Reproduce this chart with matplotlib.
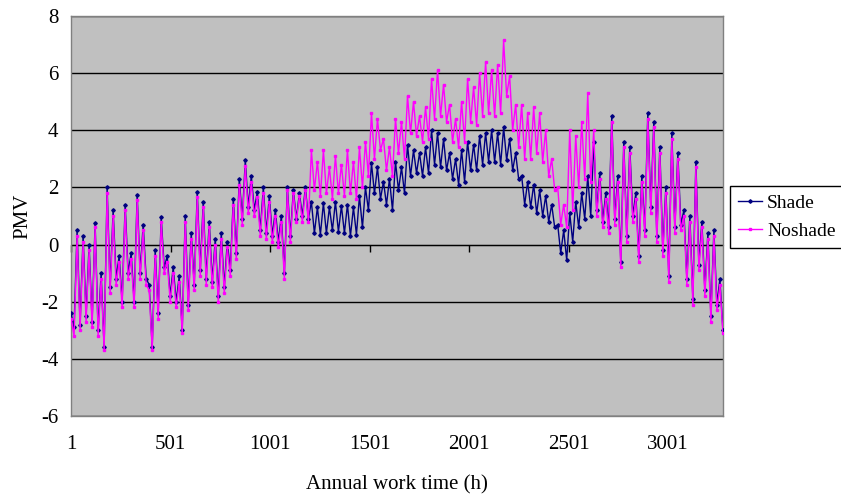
import numpy as np
import matplotlib
matplotlib.use("Agg")
import matplotlib.pyplot as plt

plt.rcParams['font.family'] = ['Liberation Serif', 'DejaVu Serif']
plt.rcParams['axes.unicode_minus'] = False

# PMV, alternating daily high / low, evenly spread over the work hours
n_hours = 3276
shade = [
    -2.4, -2.9, 0.5, -2.8, 0.3, -2.5, 0.0, -2.7, 0.75, -3.0,
    -1.0, -3.6, 2.0, -1.5, 1.2, -1.2, -0.4, -2.0, 1.4, -1.0,
    -0.3, -2.0, 1.75, -1.0, 0.7, -1.2, -1.4, -3.6, -0.2, -2.4,
    0.95, -0.8, -0.4, -1.8, -0.8, -2.0, -1.1, -3.0, 1.0, -2.1,
    0.4, -1.4, 1.85, -0.9, 1.5, -1.2, 0.8, -1.3, 0.2, -1.8,
    0.4, -1.5, 0.1, -0.9, 1.6, -0.3, 2.3, 0.9, 2.95, 1.3,
    2.4, 1.2, 1.85, 0.5, 2.0, 0.4, 1.7, 0.3, 1.2, 0.1,
    1.0, -1.0, 2.0, 0.3, 1.9, 0.9, 1.8, 1.0, 2.0, 0.9,
    1.5, 0.4, 1.3, 0.35, 1.45, 0.4, 1.3, 0.5, 1.5, 0.45,
    1.35, 0.4, 1.4, 0.3, 1.3, 0.35, 1.7, 0.6, 2.0, 1.2,
    2.85, 1.8, 2.7, 1.6, 2.2, 1.4, 2.3, 1.2, 2.9, 1.9,
    2.7, 1.8, 3.5, 2.4, 3.3, 2.5, 3.2, 2.4, 3.4, 2.5,
    4.0, 2.8, 3.9, 2.7, 3.7, 2.6, 3.2, 2.3, 3.0, 2.1,
    3.3, 2.2, 3.6, 2.6, 3.5, 2.6, 3.8, 2.8, 3.9, 2.9,
    4.0, 2.9, 3.9, 2.8, 4.1, 2.95, 3.7, 2.6, 3.2, 2.3,
    2.4, 1.4, 2.2, 1.3, 2.1, 1.1, 1.9, 1.0, 1.7, 0.8,
    1.4, 0.6, 0.7, -0.3, 0.5, -0.55, 1.1, 0.1, 1.5, 0.6,
    1.8, 0.9, 2.4, 1.0,
    3.6, 1.2, 2.5, 0.8, 1.8, 0.6, 4.5, 0.9, 2.4, -0.6,
    3.6, 0.3, 3.4, 1.0, 1.8, -0.4, 2.4, 0.5, 4.6, 1.3,
    4.3, 0.3, 3.4, -0.2, 2.0, -1.1, 3.9, 0.6, 3.2, 0.7,
    1.2, -1.2, 1.0, -1.9, 2.9, -0.7, 0.8, -1.6, 0.4, -2.5,
    0.5, -2.1, -1.2, -3.0,
]
noshade = [
    -2.6, -3.2, 0.3, -3.0, 0.1, -2.7, -0.2, -2.9, 0.6, -3.2,
    -1.2, -3.7, 1.8, -1.7, 1.0, -1.4, -0.6, -2.2, 1.2, -1.2,
    -0.5, -2.2, 1.55, -1.2, 0.5, -1.4, -1.6, -3.7, -0.4, -2.6,
    0.8, -1.0, -0.6, -2.0, -1.0, -2.2, -1.3, -3.1, 0.8, -2.3,
    0.2, -1.6, 1.65, -1.1, 1.3, -1.4, 0.6, -1.5, 0.0, -2.0,
    0.2, -1.7, -0.1, -1.1, 1.4, -0.5, 2.1, 0.7, 2.75, 1.1,
    2.2, 1.0, 1.65, 0.3, 1.8, 0.2, 1.5, 0.1, 1.0, -0.1,
    0.8, -1.2, 1.9, 0.1, 1.8, 0.8, 1.7, 0.8, 1.9, 0.8,
    3.3, 1.9, 2.9, 1.7, 3.3, 1.8, 2.7, 1.6, 3.1, 1.8,
    2.8, 1.7, 3.3, 1.8, 2.9, 1.6, 3.4, 2.0, 3.6, 2.4,
    4.6, 3.0, 4.4, 3.3, 3.7, 2.6, 3.4, 2.4, 4.4, 3.2,
    4.3, 3.0, 5.2, 3.9, 5.0, 3.8, 4.5, 3.6, 4.8, 3.7,
    5.8, 4.4, 6.1, 4.5, 5.6, 4.3, 4.9, 3.6, 4.4, 3.4,
    5.0, 3.6, 5.8, 4.3, 5.5, 4.2, 6.0, 4.5, 6.4, 4.6,
    6.1, 4.5, 6.3, 4.6, 7.15, 5.2, 5.9, 4.0, 4.9, 3.4,
    4.9, 3.0, 4.6, 3.0, 4.8, 3.2, 4.6, 2.9, 4.0, 2.4,
    3.0, 1.9, 2.0, 0.7, 1.4, 0.6, 4.0, 1.2, 3.8, 2.0,
    4.3, 2.3, 5.3, 2.2,
    4.0, 1.0, 2.3, 0.6, 1.6, 0.4, 4.3, 0.7, 2.2, -0.8,
    3.4, 0.1, 3.2, 0.8, 1.6, -0.6, 2.2, 0.3, 4.4, 1.1,
    4.1, 0.1, 3.2, -0.4, 1.8, -1.3, 3.7, 0.4, 3.0, 0.5,
    1.0, -1.4, 0.8, -2.1, 2.7, -0.9, 0.6, -1.8, 0.2, -2.7,
    0.3, -2.3, -1.4, -3.1,
]
xtick_vals = [1, 501, 1001, 1501, 2001, 2501, 3001]
ytick_vals = [-6, -4, -2, 0, 2, 4, 6, 8]

hours_s = np.linspace(1, n_hours, len(shade))
hours_n = np.linspace(1, n_hours, len(noshade))

fig = plt.figure(figsize=(8.41, 4.96), dpi=100)
ax = fig.add_axes([0.0844, 0.1613, 0.7753, 0.8064])
ax.set_facecolor('#C0C0C0')

ax.plot(hours_s, shade, color='#000080', lw=1.0, marker='D', ms=1.8, label='Shade', zorder=3)
ax.plot(hours_n, noshade, color='#FF00FF', lw=1.0, marker='s', ms=2.0, label='Noshade', zorder=4)

ax.set_xlim(0.5, n_hours + 0.5)
ax.set_ylim(-6, 8)
ax.set_xticks(xtick_vals)
ax.set_xticklabels([str(v) for v in xtick_vals])
ax.set_yticks(ytick_vals)
ax.grid(True, axis='y', color='black', lw=1)
ax.set_axisbelow(True)
ax.tick_params(axis='x', length=0, pad=14, labelsize=15)
ax.tick_params(axis='y', length=0, pad=9, labelsize=15)
for s in ax.spines.values():
    s.set_color('#808080')
    s.set_linewidth(1)

# category axis crosses at PMV = 0
y0 = (0 - ax.get_ylim()[0]) / (ax.get_ylim()[1] - ax.get_ylim()[0])
sec = ax.secondary_xaxis(y0)
sec.set_xticks(xtick_vals)
sec.set_xticklabels([])
sec.tick_params(direction='out', length=5, width=1, color='black')
sec.spines['bottom'].set_color('black')

ax.set_xlabel('Annual work time (h)', fontsize=15, labelpad=15)
ax.set_ylabel('PMV', fontsize=15, labelpad=6)

fig.legend(loc='upper left', bbox_to_anchor=(0.868, 0.624), fontsize=14,
           frameon=True, fancybox=False, edgecolor='black', framealpha=1,
           handlelength=1.25, handletextpad=0.25, borderpad=0.4, labelspacing=0.55,
           borderaxespad=0)

fig.savefig('out.png', dpi=100)
